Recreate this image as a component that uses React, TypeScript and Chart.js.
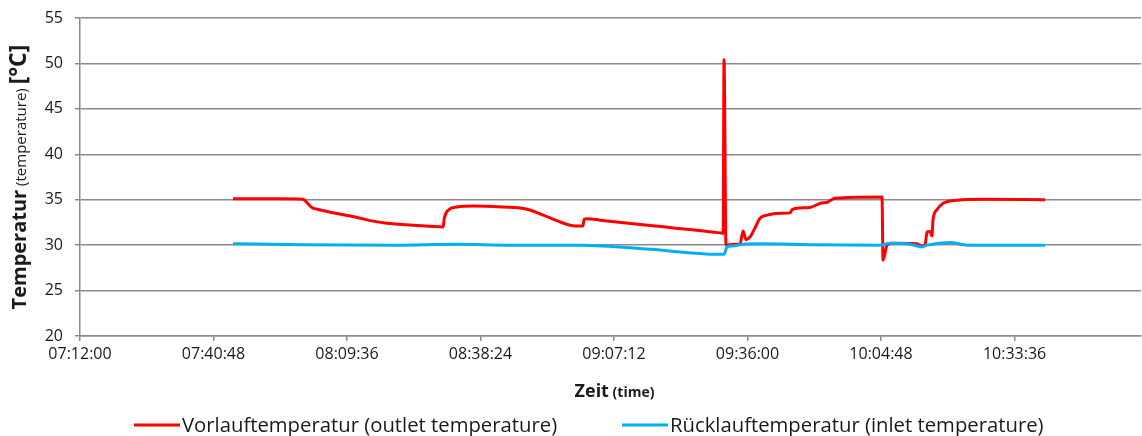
import React, { useEffect, useRef } from "react";
import { Chart, registerables } from "chart.js";

Chart.register(...registerables);

// ---- Data ----
const vorlaufTimes = [
  "07:45:00", "07:55:00", "08:00:00", "08:02:00", "08:03:10", "08:05:20", "08:10:15", "08:11:45",
  "08:14:35", "08:18:15", "08:23:50", "08:30:20", "08:30:35", "08:31:25", "08:33:20", "08:36:45",
  "08:41:05", "08:45:25", "08:48:25", "08:51:15", "08:55:35", "08:57:45", "09:00:30", "09:00:45",
  "09:01:25", "09:04:10", "09:15:00", "09:30:05", "09:30:45", "09:30:56", "09:31:22", "09:33:00",
  "09:34:23", "09:35:02", "09:35:41", "09:36:32", "09:37:37", "09:38:42", "09:40:13", "09:43:01",
  "09:45:10", "09:45:36", "09:47:20", "09:49:29", "09:51:39", "09:53:22", "09:54:27", "09:55:57",
  "10:05:01", "10:05:14", "10:06:06", "10:07:11", "10:12:34", "10:13:39", "10:14:18", "10:14:44",
  "10:15:22", "10:15:48", "10:16:01", "10:16:53", "10:18:11", "10:21:12", "10:26:48", "10:40:11",
];
const vorlaufValues = [
  35.1, 35.1, 35.05, 34.15, 33.95, 33.7, 33.2, 33.05,
  32.7, 32.4, 32.2, 32.0, 32.95, 33.85, 34.2, 34.3,
  34.25, 34.15, 33.95, 33.45, 32.55, 32.2, 32.1, 32.85,
  32.9, 32.75, 32.15, 31.35, 31.3, 50.4, 30.0, 30.1,
  30.1, 31.55, 30.6, 30.9, 31.9, 32.95, 33.3, 33.5,
  33.55, 33.9, 34.1, 34.15, 34.6, 34.75, 35.1, 35.2,
  35.3, 28.35, 30.0, 30.2, 30.15, 29.9, 30.0, 31.45,
  31.5, 31.0, 32.8, 33.9, 34.6, 34.95, 35.05, 35.0,
];

const ruecklaufTimes = [
  "07:45:00", "08:00:00", "08:20:00", "08:33:20", "08:45:00", "09:00:00", "09:15:00", "09:29:25",
  "09:30:56", "09:31:35", "09:32:52", "09:35:02", "09:38:42", "09:50:08", "10:04:35", "10:06:45",
  "10:11:04", "10:13:39", "10:14:44", "10:19:41", "10:23:21", "10:40:11",
];
const ruecklaufValues = [
  30.15, 30.05, 30.0, 30.1, 30.0, 30.0, 29.55, 29.0,
  29.0, 29.8, 29.9, 30.1, 30.15, 30.05, 30.0, 30.2,
  30.1, 29.8, 30.0, 30.3, 30.0, 30.0,
];

const seriesNames = ["Vorlauftemperatur (outlet temperature)", "Rücklauftemperatur (inlet temperature)"];
const seriesColors = ["#FF0000", "#00B0F0"];

const xStart = "07:12:00";
const xEnd = "11:00:53";
const xStepSeconds = 1728; // 00:28:48
const yMin = 20;
const yMax = 55;
const yStep = 5;

// ---- helpers ----
const toSec = (s: string) => {
  const [h, m, sec] = s.split(":").map(Number);
  return h * 3600 + m * 60 + sec;
};
const fmt = (v: number) => {
  const t = Math.round(v);
  const h = Math.floor(t / 3600);
  const m = Math.floor((t % 3600) / 60);
  const s = t % 60;
  const p = (n: number) => String(n).padStart(2, "0");
  return `${p(h)}:${p(m)}:${p(s)}`;
};

const FONT = '"Open Sans", "Noto Sans", sans-serif';
const GRID = "#8a8a8a";
const TEXT = "#1a1a1a";

const titlesPlugin = {
  id: "customTitles",
  afterDraw(chart: any) {
    const ctx: CanvasRenderingContext2D = chart.ctx;
    const ca = chart.chartArea;
    ctx.save();
    ctx.fillStyle = TEXT;
    ctx.textBaseline = "alphabetic";
    ctx.textAlign = "left";

    // Y axis title (rotated)
    const yParts = [
      { text: "Temperatur", font: `bold 20px ${FONT}` },
      { text: " (temperature) ", font: `15px ${FONT}` },
      { text: "[°C]", font: `bold 23px ${FONT}` },
    ];
    let total = 0;
    const widths = yParts.map((p) => {
      ctx.font = p.font;
      const w = ctx.measureText(p.text).width;
      total += w;
      return w;
    });
    ctx.save();
    ctx.translate(26, (ca.top + ca.bottom) / 2);
    ctx.rotate(-Math.PI / 2);
    let x = -total / 2;
    yParts.forEach((p, i) => {
      ctx.font = p.font;
      ctx.fillText(p.text, x, 0);
      x += widths[i];
    });
    ctx.restore();

    // X axis title
    const xParts = [
      { text: "Zeit", font: `bold 18px ${FONT}` },
      { text: " (time)", font: `bold 14px ${FONT}` },
    ];
    let totalX = 0;
    const wx = xParts.map((p) => {
      ctx.font = p.font;
      const w = ctx.measureText(p.text).width;
      totalX += w;
      return w;
    });
    let xx = (ca.left + ca.right) / 2 + 4 - totalX / 2;
    xParts.forEach((p, i) => {
      ctx.font = p.font;
      ctx.fillText(p.text, xx, 397);
      xx += wx[i];
    });

    // Legend
    const legendItems = [
      { x: 134, label: seriesNames[0], color: seriesColors[0] },
      { x: 622, label: seriesNames[1], color: seriesColors[1] },
    ];
    ctx.font = `20.3px ${FONT}`;
    legendItems.forEach((it) => {
      ctx.strokeStyle = it.color;
      ctx.lineWidth = 3;
      ctx.beginPath();
      ctx.moveTo(it.x, 425);
      ctx.lineTo(it.x + 46, 425);
      ctx.stroke();
      ctx.fillStyle = TEXT;
      ctx.fillText(it.label, it.x + 48, 432);
    });
    ctx.restore();
  },
};

export default function App() {
  const ref = useRef<HTMLCanvasElement | null>(null);

  useEffect(() => {
    document.body.style.margin = "0";
    const canvas = ref.current;
    if (!canvas) return;
    const x0 = toSec(xStart);
    const x1 = toSec(xEnd);
    const mk = (times: string[], vals: number[]) => times.map((t, i) => ({ x: toSec(t), y: vals[i] }));

    const chart = new Chart(canvas, {
      type: "line",
      data: {
        datasets: [
          {
            label: seriesNames[0],
            data: mk(vorlaufTimes, vorlaufValues),
            borderColor: seriesColors[0],
            backgroundColor: seriesColors[0],
            borderWidth: 3,
            pointRadius: 0,
            cubicInterpolationMode: "monotone",
            order: 1,
          },
          {
            label: seriesNames[1],
            data: mk(ruecklaufTimes, ruecklaufValues),
            borderColor: seriesColors[1],
            backgroundColor: seriesColors[1],
            borderWidth: 3,
            pointRadius: 0,
            cubicInterpolationMode: "monotone",
            order: 0,
          },
        ],
      },
      options: {
        responsive: false,
        animation: false,
        layout: { padding: { top: 18, right: 1, left: 0, bottom: 0 } },
        plugins: {
          legend: { display: false },
          tooltip: { enabled: false },
          title: { display: false },
        },
        scales: {
          x: {
            type: "linear",
            min: x0,
            max: x1,
            afterBuildTicks: (scale: any) => {
              const t: any[] = [];
              for (let v = x0; v <= x1; v += xStepSeconds) t.push({ value: v });
              scale.ticks = t;
            },
            afterFit: (scale: any) => {
              scale.height = 100;
              scale.paddingLeft = 0;
              scale.paddingRight = 0;
            },
            ticks: {
              autoSkip: false,
              maxRotation: 0,
              minRotation: 0,
              padding: 4,
              color: TEXT,
              font: { family: FONT, size: 16 },
              callback: (v: any) => fmt(Number(v)),
            },
            grid: { drawOnChartArea: false, drawTicks: true, tickLength: 5, color: GRID, lineWidth: 1.5 },
            border: { display: true, color: GRID, width: 1.5 },
          },
          y: {
            min: yMin,
            max: yMax,
            afterFit: (scale: any) => {
              scale.width = 80;
              scale.paddingTop = 0;
              scale.paddingBottom = 0;
            },
            ticks: {
              stepSize: yStep,
              padding: 12,
              color: TEXT,
              font: { family: FONT, size: 16 },
            },
            grid: { color: GRID, lineWidth: 1.5, tickLength: 5 },
            border: { display: true, color: GRID, width: 1.5 },
          },
        },
      },
      plugins: [titlesPlugin],
    } as any);
    return () => chart.destroy();
  }, []);

  return (
    <div style={{ width: 1142, height: 436 }}>
      <canvas ref={ref} width={1142} height={436} style={{ display: "block" }} />
    </div>
  );
}
